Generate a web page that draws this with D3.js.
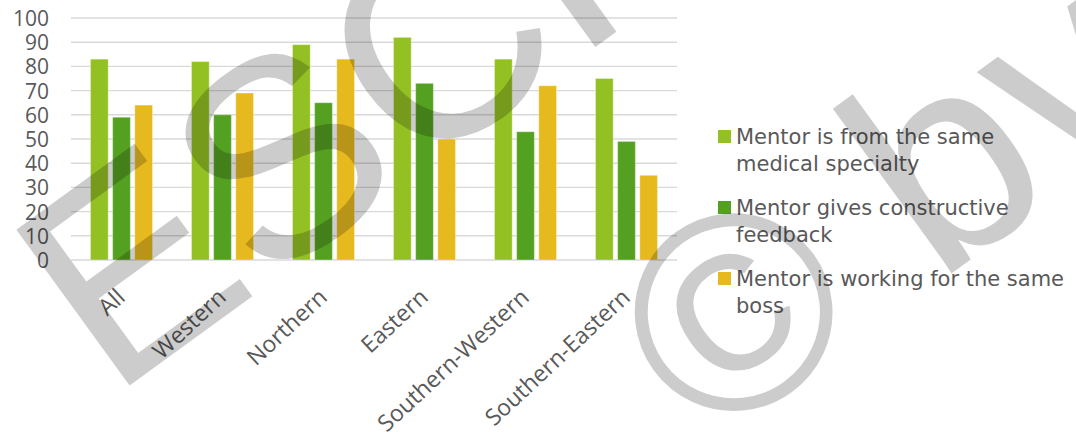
<!DOCTYPE html>
<html>
<head>
<meta charset="utf-8">
<script src="https://cdn.jsdelivr.net/npm/d3@7"></script>
<style>
  html, body { margin: 0; padding: 0; background: #ffffff; }
  svg { display: block; }
</style>
</head>
<body>
<svg id="chart" width="1076" height="432"></svg>
<script>
// Regions shown on the x axis
const categories = ["All", "Western", "Northern", "Eastern", "Southern-Western", "Southern-Eastern"];

// Share of respondents (%) per region
const sameSpecialty = [83, 82, 89, 92, 83, 75];
const constructiveFeedback = [59, 60, 65, 73, 53, 49];
const sameBoss = [64, 69, 83, 50, 72, 35];

const seriesNames = [
  "Mentor is from the same medical specialty",
  "Mentor gives constructive feedback",
  "Mentor is working for the same boss"
];
const seriesValues = [sameSpecialty, constructiveFeedback, sameBoss];
const seriesColors = ["#93c123", "#54a021", "#e6b91e"];

// Legend labels split over two lines
const legendLines = [
  ["Mentor is from the same", "medical specialty"],
  ["Mentor gives constructive", "feedback"],
  ["Mentor is working for the same", "boss"]
];

const yTicks = [0, 10, 20, 30, 40, 50, 60, 70, 80, 90, 100];

const svg = d3.select("#chart");
const textColor = "#595959";
const axisFont = "'Open Sans', 'Noto Sans', sans-serif";

const plot = { left: 71, right: 677, top: 18, bottom: 260 };

const y = d3.scaleLinear().domain([0, 100]).range([plot.bottom, plot.top]);

const x0 = d3.scaleBand()
  .domain(categories)
  .range([plot.left, plot.right])
  .paddingInner(0.386)
  .paddingOuter(0.193);

const x1 = d3.scaleBand()
  .domain(d3.range(seriesNames.length))
  .range([0, x0.bandwidth()])
  .paddingInner(0.2);

// Horizontal gridlines
svg.append("g")
  .selectAll("line")
  .data(yTicks)
  .join("line")
  .attr("x1", plot.left)
  .attr("x2", plot.right)
  .attr("y1", d => y(d))
  .attr("y2", d => y(d))
  .attr("stroke", "#d9d9d9")
  .attr("stroke-width", 1.4);

// Y axis labels
const yAxis = d3.axisLeft(y).tickValues(yTicks).tickSize(0).tickPadding(0);
const yg = svg.append("g")
  .attr("transform", `translate(${plot.left - 22},0)`)
  .call(yAxis);
yg.select(".domain").remove();
yg.selectAll("text")
  .attr("fill", textColor)
  .style("font-family", axisFont)
  .style("font-size", "21px")
  .attr("dy", "0.36em");

// Bars
const rows = categories.map((c, i) => ({ cat: c, vals: seriesValues.map(s => s[i]) }));
const groups = svg.append("g")
  .selectAll("g")
  .data(rows)
  .join("g")
  .attr("transform", d => `translate(${x0(d.cat)},0)`);

groups.selectAll("rect")
  .data(d => d.vals.map((v, k) => ({ v, k })))
  .join("rect")
  .attr("x", d => x1(d.k))
  .attr("width", x1.bandwidth())
  .attr("y", d => y(d.v))
  .attr("height", d => y(0) - y(d.v))
  .attr("fill", d => seriesColors[d.k])
  .attr("stroke", "rgba(255,255,255,0.35)")
  .attr("stroke-width", 1);

// Category labels, rotated, ending just right of each group centre
const xAxis = d3.axisBottom(x0).tickSize(0).tickPadding(0);
const xg = svg.append("g")
  .attr("transform", `translate(5,${plot.bottom + 39})`)
  .call(xAxis);
xg.select(".domain").remove();
xg.selectAll("text")
  .attr("fill", textColor)
  .style("font-family", axisFont)
  .style("font-size", "23px")
  .attr("text-anchor", "end")
  .attr("dy", "0")
  .attr("y", 0)
  .attr("transform", "rotate(-43)");

// Legend
const legend = svg.append("g").attr("transform", "translate(718,0)");
const legendItemY = [130, 201, 272];
legendLines.forEach((lines, k) => {
  const g = legend.append("g").attr("transform", `translate(0,${legendItemY[k]})`);
  g.append("rect")
    .attr("width", 13)
    .attr("height", 13)
    .attr("fill", seriesColors[k]);
  const t = g.append("text")
    .attr("x", 18)
    .attr("y", 13.5)
    .attr("fill", textColor)
    .style("font-family", "'DejaVu Sans', sans-serif")
    .style("font-size", "21px");
  lines.forEach((ln, j) => {
    t.append("tspan").attr("x", 18).attr("dy", j === 0 ? 0 : 27.5).text(ln);
  });
});

// Watermark overlay
const wm = svg.append("g")
  .attr("fill", "#000000")
  .attr("fill-opacity", 0.2)
  .style("font-family", "'Liberation Sans', Arial, sans-serif")
  .style("font-size", "280px")
  .style("pointer-events", "none");
wm.append("text")
  .attr("transform", "translate(111,399) rotate(-36)")
  .text("ESCH");
wm.append("text")
  .attr("transform", "translate(707,451) rotate(-36)")
  .text("© bv");
</script>
</body>
</html>
